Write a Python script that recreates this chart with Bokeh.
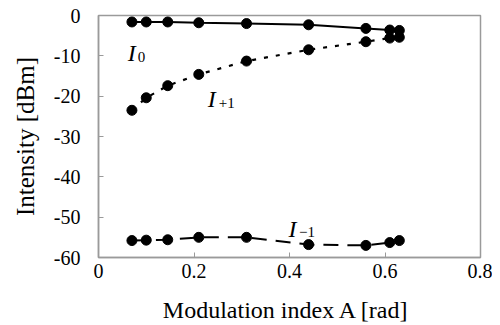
from bokeh.plotting import figure
from bokeh.models import ColumnDataSource, Range1d, FixedTicker
from bokeh.core.properties import value
from bokeh.embed import file_html
from bokeh.resources import INLINE

# data
mod_index = [0.07, 0.10, 0.145, 0.21, 0.31, 0.44, 0.56, 0.61, 0.63]
i_zero = [-1.6, -1.6, -1.6, -1.8, -2.0, -2.3, -3.2, -3.6, -3.7]
i_plus1 = [-23.5, -20.4, -17.4, -14.6, -11.3, -8.5, -6.5, -5.6, -5.4]
i_minus1 = [-55.8, -55.7, -55.6, -55.0, -55.0, -56.8, -57.0, -56.3, -55.8]

x_ticks = [0, 0.2, 0.4, 0.6, 0.8]
x_tick_labels = ["0", "0.2", "0.4", "0.6", "0.8"]
y_ticks = [-60, -50, -40, -30, -20, -10, 0]
y_tick_labels = ["-60", "-50", "-40", "-30", "-20", "-10", "0"]

SERIF = "'Liberation Serif', 'Times New Roman', serif"
GRAY = "#9a9a9a"

src = ColumnDataSource(dict(x=mod_index, i0=i_zero, ip=i_plus1, im=i_minus1))

p = figure(width=492, height=325, output_backend="svg", toolbar_location=None,
           x_range=Range1d(0, 0.8), y_range=Range1d(-60, 0),
           min_border_left=98, min_border_right=12, min_border_top=15, min_border_bottom=63)
p.background_fill_color = "white"
p.border_fill_color = "white"
p.outline_line_color = GRAY
p.outline_line_width = 1.5
p.grid.visible = False

p.line("x", "i0", source=src, line_color="black", line_width=2)
p.line("x", "ip", source=src, line_color="black", line_width=2.2, line_dash="4 8")
p.line("x", "im", source=src, line_color="black", line_width=2, line_dash="15 9")
for col in ["i0", "ip", "im"]:
    p.scatter("x", col, source=src, size=10, color="black")

for ax in (p.xaxis, p.yaxis):
    ax.axis_line_color = GRAY
    ax.axis_line_width = 1.5
    ax.major_tick_line_color = GRAY
    ax.major_tick_in = 5
    ax.major_tick_out = 0
    ax.minor_tick_line_color = None
    ax.major_label_text_font = SERIF
    ax.major_label_text_font_size = "20px"
    ax.major_label_text_color = "black"
    ax.axis_label_text_font = SERIF
    ax.axis_label_text_font_style = "normal"
    ax.axis_label_text_color = "black"

p.xaxis.ticker = FixedTicker(ticks=x_ticks)
p.xaxis.major_label_overrides = {t: l for t, l in zip(x_ticks, x_tick_labels)}
p.yaxis.ticker = FixedTicker(ticks=y_ticks)
p.yaxis.major_label_overrides = {t: l for t, l in zip(y_ticks, y_tick_labels)}
p.xaxis.major_label_standoff = 6
p.yaxis.major_label_standoff = 18
p.xaxis.axis_label = "Modulation index A  [rad]"
p.xaxis.axis_label_text_font_size = "24px"
p.xaxis.axis_label_standoff = 16
p.yaxis.axis_label = "Intensity [dBm]"
p.yaxis.axis_label_text_font_size = "25px"
p.yaxis.axis_label_standoff = 12

# series labels: italic I with subscript
lab_I = ColumnDataSource(dict(x=[0.061, 0.229, 0.398], y=[-9.2, -20.6, -52.9], t=["I", "I", "I"]))
lab_sub = ColumnDataSource(dict(x=[0.082, 0.252, 0.420], y=[-10.2, -21.6, -53.8], t=["0", "+1", "\u22121"]))
p.text("x", "y", text="t", source=lab_I, text_font=value(SERIF), text_font_style="italic",
       text_font_size="24px", text_color="black", text_baseline="alphabetic", text_align="left")
p.text("x", "y", text="t", source=lab_sub, text_font=value(SERIF),
       text_font_size="15px", text_color="black", text_baseline="alphabetic", text_align="left")

open("out.html", "w").write(file_html(p, INLINE))
